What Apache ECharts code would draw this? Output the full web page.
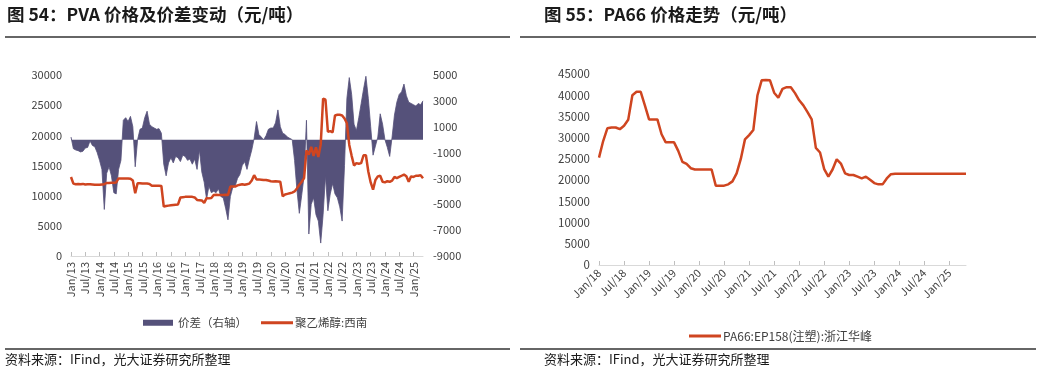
<!DOCTYPE html>
<html><head><meta charset="utf-8">
<script src="https://cdn.jsdelivr.net/npm/echarts@6/dist/echarts.min.js"></script>
<style>html,body{margin:0;padding:0;background:#fff}#c{width:1054px;height:370px}</style>
</head><body><div id="c"></div>
<script>
const MONTHS = ['Jan','Feb','Mar','Apr','May','Jun','Jul','Aug','Sep','Oct','Nov','Dec'];
function monthLabels(year, count) {
  const out = [];
  for (let i = 0; i < count; i++) {
    const y = year + Math.floor(i / 12);
    out.push(MONTHS[i % 12] + '/' + String(y % 100).padStart(2, '0'));
  }
  return out;
}

// Chart 54: PVA (Jan/13 .. May/25, monthly)
const pvaCategories = monthLabels(2013, 149);
const pvaPrice = [
  13100,12000,11900,11950,11900,11950,11850,11900,11900,11850,11800,11800,
  11800,11850,11900,12100,12100,12150,12150,12200,12850,12850,12850,12850,
  12850,12800,12500,10400,12050,12050,12000,12000,12000,11950,11650,11650,
  11650,11650,11600,8200,8300,8350,8400,8450,8500,8550,9700,9750,
  9800,9800,9800,9800,9700,9300,9250,9200,8800,9600,9550,9600,
  10100,10150,10100,10100,10100,10150,10100,11500,11500,11500,11700,11800,
  11900,11800,11900,12000,12500,13400,12700,12700,12650,12600,12600,12500,
  12400,12350,12400,12350,12300,9900,10200,10300,10400,10500,10700,11200,
  11800,12300,12900,17500,16800,18100,16600,18000,16400,18500,26100,25900,
  20600,20700,20500,23300,23400,23400,23300,22800,22000,18400,16600,15000,
  15400,15300,15400,16700,16700,14000,12200,11000,12600,13200,13300,12300,
  12200,12400,12300,12500,13100,12900,13100,13300,13500,13200,12300,13200,
  13100,13300,13300,13400,12900
];
const pvaSpread = [
  200,-700,-800,-850,-950,-900,-650,-600,-100,-450,-550,-1000,
  -1600,-2300,-5400,-2600,-2100,-2800,-4100,-4200,-2300,-1600,1500,1700,
  1400,1800,1000,-2100,0,800,900,1700,2200,1200,1000,900,
  800,850,500,-1900,-2800,-1800,-1400,-1800,-1300,-1400,-1700,-1200,
  -1300,-1600,-1500,-1900,-1500,-2300,-800,-2500,-3300,-4600,-3600,-4100,
  -4000,-4100,-3800,-4400,-4500,-5300,-6200,-4400,-3700,-3600,-3000,-2700,
  -2000,-1700,-2300,-1500,-800,100,1400,400,200,0,300,800,
  900,900,1300,2300,1000,500,400,200,100,0,-1600,-3900,
  -5700,-4300,-2800,1500,-7300,-5000,-4500,-5800,-6300,-8000,-5800,-2800,
  -5500,-4200,-3400,-4200,-4500,-5200,-6300,-2000,3200,4800,3500,1200,
  700,1700,2800,3900,4900,3200,1000,-1200,-500,200,2000,1200,
  0,-600,-1300,200,1900,2900,3500,3700,4300,3400,2900,2800,
  2700,2600,2800,2700,3000
];
const pvaLeftAxis = {min: 0, max: 30000, interval: 5000};
const pvaRightAxis = {min: -9000, max: 5000, interval: 2000};

// Chart 55: PA66 (Jan/18 .. May/25, monthly)
const pa66Categories = monthLabels(2018, 89);
const pa66Price = [
  25300,29200,32200,32400,32400,32000,32800,34200,40000,40800,40800,37600,
  34300,34300,34300,30800,28900,28900,28900,26900,24300,23800,22800,22500,
  22500,22500,22500,22500,18700,18700,18700,19000,19700,21600,25000,29600,
  30600,31800,40000,43500,43600,43500,40600,39400,41500,41900,41900,40500,
  38800,37600,36000,34300,27600,26500,22600,20800,22500,24900,23900,21600,
  21200,21200,20800,20400,20800,20100,19300,19000,19000,20400,21400,21500,
  21500,21500,21500,21500,21500,21500,21500,21500,21500,21500,21500,21500,
  21500,21500,21500,21500,21500
];
const pa66Axis = {min: 0, max: 45000, interval: 5000};

const FONT = '"Noto Sans CJK SC", "Noto Sans", sans-serif';
const SPREAD_COLOR = '#55517A';
const RED = '#CF4520';
const LABEL_COLOR = '#404040';
const plain = v => String(v);

const chart = echarts.init(document.getElementById('c'), null, {renderer: 'canvas'});

const catAxisBase = {
  type: 'category',
  boundaryGap: false,
  axisLine: {lineStyle: {color: '#d9d9d9', width: 1}},
  axisTick: {interval: 5, inside: true, length: 4, lineStyle: {color: '#bfbfbf'}},
  splitLine: {show: false}
};
const valAxisBase = {
  type: 'value',
  axisLine: {show: false},
  axisTick: {show: false},
  splitLine: {show: false}
};

chart.setOption({
  animation: false,
  textStyle: {fontFamily: FONT},
  grid: [
    {left: 71, top: 75, width: 352, height: 181},
    {left: 599, top: 74, width: 367, height: 191}
  ],
  xAxis: [
    Object.assign({}, catAxisBase, {
      gridIndex: 0, data: pvaCategories,
      axisLabel: {interval: 5, rotate: 90, fontSize: 11, color: LABEL_COLOR, margin: 6, fontFamily: FONT}
    }),
    Object.assign({}, catAxisBase, {
      gridIndex: 1, data: pa66Categories,
      axisLabel: {interval: 5, rotate: 45, fontSize: 11, color: LABEL_COLOR, margin: 6, fontFamily: FONT}
    })
  ],
  yAxis: [
    Object.assign({}, valAxisBase, pvaLeftAxis, {
      gridIndex: 0, position: 'left',
      axisLabel: {fontSize: 11, color: LABEL_COLOR, margin: 9, fontFamily: FONT, formatter: plain}
    }),
    Object.assign({}, valAxisBase, pvaRightAxis, {
      gridIndex: 0, position: 'right',
      axisLabel: {fontSize: 11, color: LABEL_COLOR, margin: 10, fontFamily: FONT, formatter: plain}
    }),
    Object.assign({}, valAxisBase, pa66Axis, {
      gridIndex: 1, position: 'left',
      axisLabel: {fontSize: 11.5, color: LABEL_COLOR, margin: 9, fontFamily: FONT, formatter: plain}
    })
  ],
  legend: [
    {
      left: 138, top: 312, itemWidth: 30, itemHeight: 6,
      textStyle: {fontSize: 11.5, color: LABEL_COLOR, fontFamily: FONT},
      data: [{name: '价差（右轴）', icon: 'rect'}]
    },
    {
      left: 256, top: 312, itemWidth: 32, itemHeight: 3, itemGap: 2,
      textStyle: {fontSize: 11.5, color: LABEL_COLOR, fontFamily: FONT, padding: [0, 0, 0, -3]},
      data: [{name: '聚乙烯醇:西南', icon: 'rect'}]
    },
    {
      left: 684, top: 325, itemWidth: 32, itemHeight: 3,
      textStyle: {fontSize: 12, color: LABEL_COLOR, fontFamily: FONT, padding: [0, 0, 0, -3]},
      data: [{name: 'PA66:EP158(注塑):浙江华峰', icon: 'rect'}]
    }
  ],
  series: [
    {
      name: '价差（右轴）', type: 'line', xAxisIndex: 0, yAxisIndex: 1,
      data: pvaSpread, symbol: 'none', z: 1,
      itemStyle: {color: SPREAD_COLOR},
      lineStyle: {color: SPREAD_COLOR, width: 0.8},
      areaStyle: {color: SPREAD_COLOR, opacity: 1}
    },
    {
      name: '聚乙烯醇:西南', type: 'line', xAxisIndex: 0, yAxisIndex: 0,
      data: pvaPrice, symbol: 'none', z: 3,
      itemStyle: {color: RED},
      lineStyle: {color: RED, width: 2.5}
    },
    {
      name: 'PA66:EP158(注塑):浙江华峰', type: 'line', xAxisIndex: 1, yAxisIndex: 2,
      data: pa66Price, symbol: 'none',
      itemStyle: {color: RED},
      lineStyle: {color: RED, width: 2.5}
    }
  ],
  graphic: [
    {type: 'text', x: 7, y: 14, style: {text: '图 54：PVA 价格及价差变动（元/吨）', font: 'bold 17.5px ' + FONT, fill: '#1a1a1a', verticalAlign: 'middle'}},
    {type: 'text', x: 544, y: 14, style: {text: '图 55：PA66 价格走势（元/吨）', font: 'bold 17.5px ' + FONT, fill: '#1a1a1a', verticalAlign: 'middle'}},
    {type: 'line', shape: {x1: 5, y1: 37, x2: 510, y2: 37}, style: {stroke: '#333', lineWidth: 1.3}},
    {type: 'line', shape: {x1: 520, y1: 37, x2: 1036, y2: 37}, style: {stroke: '#333', lineWidth: 1.3}},
    {type: 'line', shape: {x1: 5, y1: 349, x2: 510, y2: 349}, style: {stroke: '#333', lineWidth: 1.3}},
    {type: 'line', shape: {x1: 520, y1: 349, x2: 1036, y2: 349}, style: {stroke: '#333', lineWidth: 1.3}},
    {type: 'text', x: 5, y: 359, style: {text: '资料来源：IFind，光大证券研究所整理', font: '13px ' + FONT, fill: '#1a1a1a', verticalAlign: 'middle'}},
    {type: 'text', x: 544, y: 359, style: {text: '资料来源：IFind，光大证券研究所整理', font: '13px ' + FONT, fill: '#1a1a1a', verticalAlign: 'middle'}}
  ]
});
</script>
</body></html>
